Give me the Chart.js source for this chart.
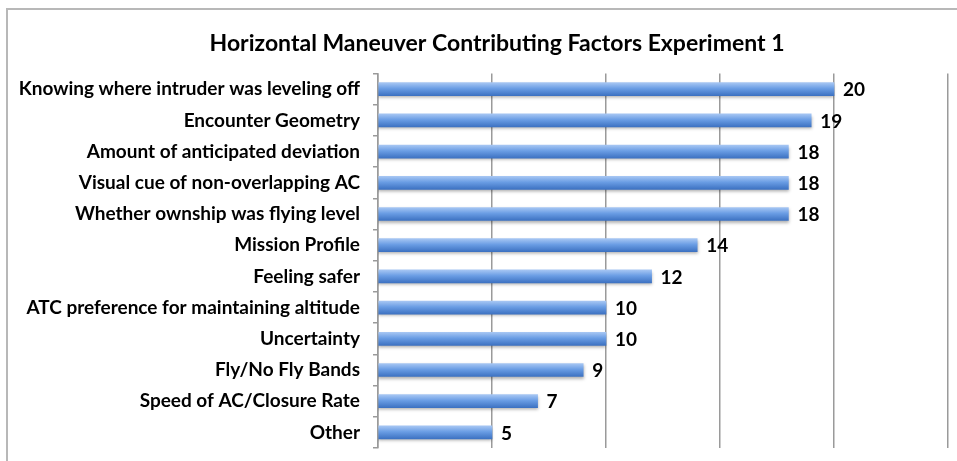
<!DOCTYPE html>
<html>
<head>
<meta charset="utf-8">
<script src="https://cdn.jsdelivr.net/npm/chart.js@4"></script>
<style>
  html, body { margin: 0; padding: 0; background: #fff; }
  #wrap { position: relative; width: 957px; height: 461px; }
  #frame { position: absolute; left: 6px; top: 8px; right: -2px; bottom: -2px;
           border-top: 2px solid #b8b8b8; border-left: 2px solid #b8b8b8; }
  canvas { position: absolute; left: 0; top: 0; }
</style>
</head>
<body>
<div id="wrap">
  <div id="frame"></div>
  <canvas id="factorChart" width="957" height="461"></canvas>
</div>
<script>
// data
const categories = [
  "Knowing where intruder was leveling off",
  "Encounter Geometry",
  "Amount of anticipated deviation",
  "Visual cue of non-overlapping AC",
  "Whether ownship was flying level",
  "Mission Profile",
  "Feeling safer",
  "ATC preference for maintaining altitude",
  "Uncertainty",
  "Fly/No Fly Bands",
  "Speed of AC/Closure Rate",
  "Other"
];
const counts = [20, 19, 18, 18, 18, 14, 12, 10, 10, 9, 7, 5];
const chartTitle = "Horizontal Maneuver Contributing Factors Experiment 1";

const barThickness = 13;
const fontFamily = "Lato, 'Open Sans', sans-serif";
const labelSize = 19;

// blue gradient like the office-style bars
function barFill(context) {
  const chart = context.chart;
  const yScale = chart.scales.y;
  if (!yScale || context.dataIndex === undefined) return "#5b8fd8";
  const c = yScale.getPixelForValue(context.dataIndex);
  if (!Number.isFinite(c)) return "#5b8fd8";
  const h = barThickness / 2;
  const g = chart.ctx.createLinearGradient(0, c - h, 0, c + h);
  g.addColorStop(0, "#a6c6f3");
  g.addColorStop(0.45, "#6a9de4");
  g.addColorStop(1, "#3d72c2");
  return g;
}

// soft shadow under bars
const barShadow = {
  id: "barShadow",
  beforeDatasetsDraw(chart) {
    const ctx = chart.ctx;
    ctx.save();
    ctx.shadowColor = "rgba(0,0,0,0.3)";
    ctx.shadowOffsetY = 2;
    ctx.shadowBlur = 3;
  },
  afterDatasetsDraw(chart) {
    chart.ctx.restore();
  }
};

// long category names run further left than the axis box, don't clip them
const wideLabels = {
  id: "wideLabels",
  afterLayout(chart) {
    chart.scales.y.left = 0;
  }
};

// value labels at the end of each bar
const valueLabels = {
  id: "valueLabels",
  afterDatasetsDraw(chart) {
    const ctx = chart.ctx;
    const meta = chart.getDatasetMeta(0);
    ctx.save();
    ctx.font = "bold " + labelSize + "px " + fontFamily;
    ctx.fillStyle = "#000";
    ctx.textAlign = "left";
    ctx.textBaseline = "middle";
    meta.data.forEach((bar, i) => {
      ctx.fillText(String(counts[i]), bar.x + 9, bar.y + 1);
    });
    ctx.restore();
  }
};

new Chart(document.getElementById("factorChart"), {
  type: "bar",
  data: {
    labels: categories,
    datasets: [{
      data: counts,
      backgroundColor: barFill,
      borderWidth: 0,
      barThickness: barThickness
    }]
  },
  options: {
    indexAxis: "y",
    responsive: false,
    animation: false,
    devicePixelRatio: 1,
    layout: { padding: { left: 46, right: 9, top: 0, bottom: 13 } },
    plugins: {
      legend: { display: false },
      tooltip: { enabled: false },
      title: {
        display: true,
        text: chartTitle,
        color: "#000",
        font: { family: fontFamily, size: 23, weight: "bold" },
        padding: { top: 30, bottom: 16 }
      }
    },
    scales: {
      x: {
        min: 0,
        max: 25,
        ticks: { stepSize: 5, display: false },
        grid: { color: "#9a9a9a", lineWidth: 1.5, drawTicks: false },
        border: { display: false }
      },
      y: {
        afterFit(scale) {
          scale.width = 332;
          scale.paddingTop = 0;
          scale.paddingBottom = 0;
        },
        ticks: {
          color: "#000",
          font: { family: fontFamily, size: labelSize, weight: "bold" },
          padding: 13
        },
        grid: { drawOnChartArea: false, tickLength: 5, color: "#9a9a9a", lineWidth: 1.5 },
        border: { display: true, color: "#9a9a9a", width: 1.5 }
      }
    }
  },
  plugins: [barShadow, wideLabels, valueLabels]
});
</script>
</body>
</html>
